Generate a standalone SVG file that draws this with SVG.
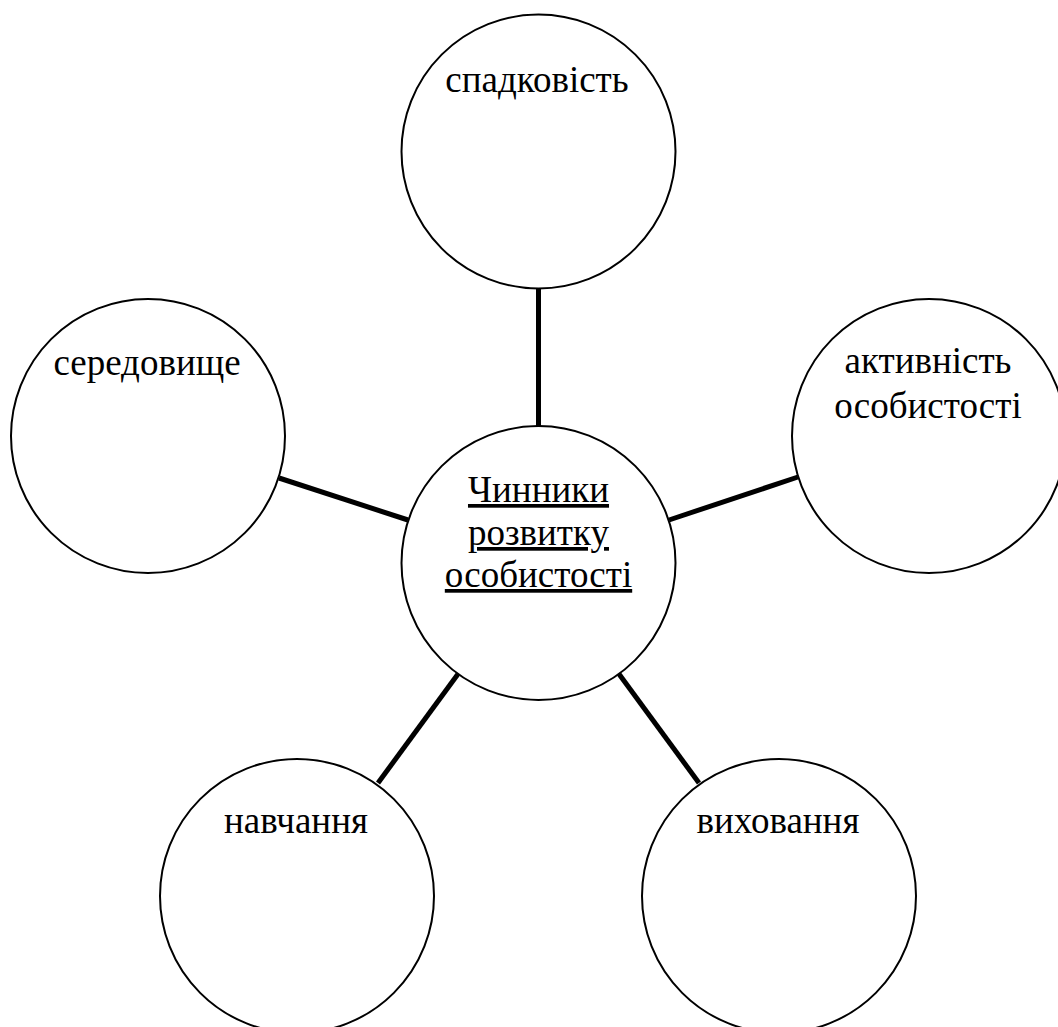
<svg xmlns="http://www.w3.org/2000/svg" width="1058" height="1027" viewBox="0 0 1058 1027">
<style>
.node{fill:#fff;stroke:#000;stroke-width:2}
.lbl{font-family:'Liberation Serif','Times New Roman',serif;font-size:37px;fill:#000;text-anchor:middle}
.conn{stroke:#000;stroke-width:5;fill:none}
</style>
<rect width="1058" height="1027" fill="#fff"/>
<g id="connectors">
<line class="conn" x1="538.5" y1="289" x2="538.5" y2="426"/>
<line class="conn" x1="279" y1="478" x2="408" y2="520"/>
<line class="conn" x1="669" y1="520" x2="798" y2="477"/>
<line class="conn" x1="458" y1="674" x2="378" y2="783"/>
<line class="conn" x1="619" y1="674" x2="699" y2="783"/>
</g>
<g id="node-center">
<circle class="node" cx="538.5" cy="563" r="137"/>
<text class="lbl" x="538.5" y="502" text-decoration="underline">Чинники</text>
<text class="lbl" x="538.5" y="545" text-decoration="underline">розвитку</text>
<text class="lbl" x="538.5" y="587" text-decoration="underline">особистості</text>
</g>
<g id="node-spadkovist">
<circle class="node" cx="538.5" cy="151.5" r="137"/>
<text class="lbl" x="537" y="92">спадковість</text>
</g>
<g id="node-seredovyshche">
<circle class="node" cx="148" cy="436" r="137"/>
<text class="lbl" x="147" y="375">середовище</text>
</g>
<g id="node-aktyvnist">
<circle class="node" cx="929" cy="436" r="137"/>
<text class="lbl" x="928" y="373">активність</text>
<text class="lbl" x="928" y="418">особистості</text>
</g>
<g id="node-navchannia">
<circle class="node" cx="297" cy="896" r="137"/>
<text class="lbl" x="296" y="833">навчання</text>
</g>
<g id="node-vykhovannia">
<circle class="node" cx="779" cy="896" r="137"/>
<text class="lbl" x="778" y="833">виховання</text>
</g>
</svg>
